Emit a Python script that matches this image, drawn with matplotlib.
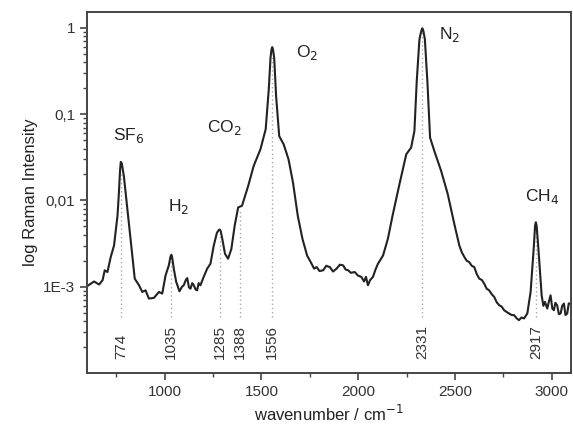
import matplotlib
matplotlib.use("Agg")
import matplotlib.pyplot as plt
from matplotlib.ticker import FixedLocator, FixedFormatter, LogLocator, NullFormatter

plt.rcParams['font.family'] = ['Liberation Sans', 'DejaVu Sans']

# ---- data ----
wavenumber = [607, 636, 662, 680, 691, 705, 722, 739, 757, 764, 770, 774, 779, 790, 808, 828, 846,
              868, 885, 902, 919, 945, 971, 988, 1005, 1022, 1031, 1035, 1039, 1048, 1060, 1077, 1090,
              1099, 1110, 1117, 1126, 1134, 1143, 1151, 1160, 1168, 1176, 1185, 1202, 1220,
              1237, 1254, 1270, 1280, 1285, 1290, 1297, 1312, 1328, 1345, 1362, 1380, 1400, 1432, 1460, 1495,
              1522, 1538, 1547, 1552, 1556, 1560, 1566, 1576, 1592, 1615, 1640, 1663, 1688, 1712, 1736,
              1759, 1772, 1785, 1800, 1819, 1835, 1853, 1870, 1888, 1905, 1922, 1935, 1948,
              1962, 1982, 1998, 2016, 2030, 2040, 2050, 2062, 2076, 2090, 2102, 2128, 2153,
              2179, 2213, 2248, 2273, 2290, 2302, 2316, 2326, 2331, 2336, 2344, 2357, 2371, 2393, 2428,
              2462, 2496, 2522, 2535, 2548, 2560, 2573, 2586, 2599, 2612, 2625, 2638, 2650,
              2663, 2676, 2689, 2702, 2715, 2728, 2740, 2753, 2766, 2779, 2792, 2805, 2818,
              2830, 2843, 2856, 2873, 2890, 2907, 2913, 2917, 2921, 2929, 2947, 2956, 2964, 2976, 2985,
              2993, 3002, 3010, 3018, 3027, 3036, 3045, 3053, 3062, 3070, 3079, 3087, 3095]
intensity = [1.04e-3, 1.15e-3, 1.06e-3, 1.19e-3, 1.55e-3, 1.48e-3, 2.21e-3, 3.0e-3, 6.67e-3,
             1.2e-2, 2.2e-2, 2.8e-2, 2.7e-2, 1.9e-2, 8.0e-3, 3.0e-3, 1.24e-3,
             1.04e-3, 8.7e-4, 9.08e-4, 7.29e-4, 7.43e-4, 8.7e-4, 8.32e-4, 1.35e-3, 1.77e-3,
             2.25e-3, 2.35e-3, 2.2e-3, 1.6e-3, 1.14e-3, 8.85e-4, 1.0e-3,
             1.04e-3, 1.2e-3, 1.26e-3, 9.8e-4, 9.5e-4, 1.1e-3, 1.04e-3, 9.3e-4, 9.08e-4,
             1.1e-3, 1.04e-3, 1.3e-3, 1.62e-3,
             1.85e-3, 3.0e-3, 4.2e-3, 4.55e-3, 4.6e-3, 4.4e-3, 3.7e-3, 2.41e-3, 2.11e-3, 2.75e-3,
             5.1e-3, 8.3e-3, 8.69e-3, 1.48e-2, 2.51e-2, 3.92e-2,
             6.67e-2, 0.193, 0.45, 0.56, 0.599, 0.56, 0.45, 0.161, 5.57e-2, 4.47e-2, 3.0e-2, 1.62e-2,
             6.6e-3, 3.59e-3, 2.3e-3,
             1.85e-3, 1.62e-3, 1.69e-3, 1.52e-3, 1.55e-3, 1.75e-3, 1.69e-3, 1.5e-3, 1.62e-3,
             1.8e-3, 1.77e-3, 1.58e-3, 1.55e-3,
             1.45e-3, 1.48e-3, 1.35e-3, 1.3e-3, 1.15e-3, 1.3e-3, 1.04e-3, 1.2e-3, 1.3e-3,
             1.6e-3, 1.85e-3, 2.3e-3, 3.59e-3,
             6.97e-3, 1.55e-2, 3.43e-2, 4.1e-2, 6.37e-2, 0.24, 0.74, 0.93, 0.99, 0.93, 0.74, 0.24,
             5.34e-2, 3.74e-2, 2.2e-2,
             1.19e-2, 5.35e-3, 3.0e-3, 2.5e-3, 2.21e-3, 2.0e-3, 1.93e-3, 1.75e-3, 1.69e-3,
             1.4e-3, 1.24e-3, 1.2e-3, 1.09e-3,
             9.5e-4, 9.08e-4, 8.2e-4, 7.62e-4, 6.6e-4, 6.1e-4, 5.9e-4, 5.35e-4, 5.1e-4,
             4.9e-4, 4.7e-4, 4.68e-4, 4.3e-4,
             4.1e-4, 4.4e-4, 4.29e-4, 4.9e-4, 8.7e-4, 3.0e-3, 5.1e-3, 5.59e-3, 5.1e-3, 3.0e-3, 7.96e-4,
             6.0e-4, 6.68e-4, 5.59e-4, 6.8e-4,
             7.96e-4, 5.6e-4, 5.35e-4, 6.5e-4, 6.1e-4, 4.8e-4, 4.9e-4, 6.0e-4, 6.38e-4,
             4.7e-4, 4.9e-4, 6.4e-4, 6.38e-4]

peak_positions = [774, 1035, 1285, 1388, 1556, 2331, 2917]
peak_tops = [0.02, 2.0e-3, 4.0e-3, 8.0e-3, 0.5, 0.9, 5.0e-3]

species = [r'SF$_6$', r'H$_2$', r'CO$_2$', r'O$_2$', r'N$_2$', r'CH$_4$']
species_xy = [(815, 0.057), (1072, 8.6e-3), (1309, 0.070), (1735, 0.515),
              (2470, 0.83), (2948, 0.0112)]

ytick_values = [1e-3, 1e-2, 1e-1, 1]
ytick_labels = ['1E-3', '0,01', '0,1', '1']
xtick_values = [1000, 1500, 2000, 2500, 3000]

# ---- figure ----
fig = plt.figure(figsize=(5.73, 4.28), dpi=100)
ax = fig.add_axes([0.152, 0.1285, 0.845, 0.8435])

text_col = '#333333'
ax.set_yscale('log')
ax.set_xlim(600, 3100)
ax.set_ylim(1.0e-4, 1.53)

line_bottom = 4.5e-4
for pos, top in zip(peak_positions, peak_tops):
    ax.plot([pos, pos], [line_bottom, top], linestyle=(0, (1, 2)), color='#aaaaaa',
            linewidth=1.0, zorder=1)
    ax.text(pos, 1.45e-4, str(pos), rotation=90, ha='center', va='bottom',
            fontsize=11, color=text_col)

ax.plot(wavenumber, intensity, color='#222222', linewidth=1.5, zorder=2)

for name, (x, y) in zip(species, species_xy):
    ax.text(x, y, name, ha='center', va='center', fontsize=12.5, color='#222222')

ax.yaxis.set_major_locator(FixedLocator(ytick_values))
ax.yaxis.set_major_formatter(FixedFormatter(ytick_labels))
ax.yaxis.set_minor_locator(LogLocator(base=10, subs=range(2, 10)))
ax.yaxis.set_minor_formatter(NullFormatter())
ax.xaxis.set_major_locator(FixedLocator(xtick_values))
ax.xaxis.set_minor_locator(FixedLocator([750, 1250, 1750, 2250, 2750]))

ax.tick_params(axis='both', which='major', direction='out', length=5, width=1.2,
               colors='#444444', labelcolor=text_col, labelsize=11)
ax.tick_params(axis='both', which='minor', direction='out', length=3, width=1.0,
               colors='#444444')
ax.tick_params(top=False, right=False, which='both')
for sp in ax.spines.values():
    sp.set_color('#444444')
    sp.set_linewidth(1.4)

ax.set_xlabel('wavenumber / cm$^{-1}$', fontsize=12, color='#222222', labelpad=4)
ax.set_ylabel('log Raman Intensity', fontsize=12, color='#222222', labelpad=4)

fig.savefig('out.png', dpi=100)
